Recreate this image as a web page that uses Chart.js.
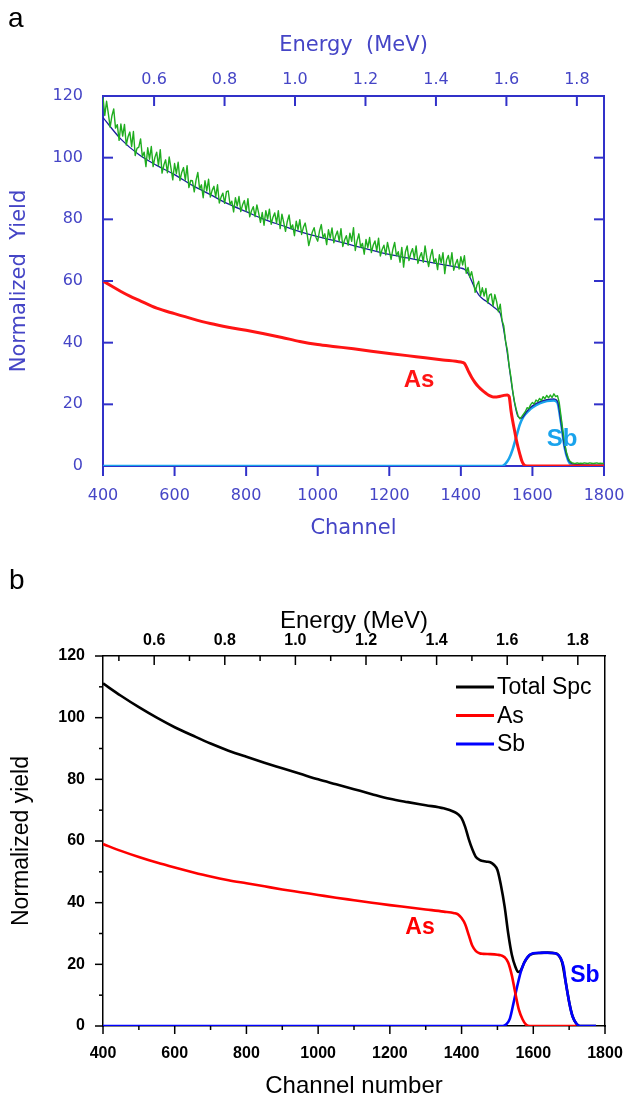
<!DOCTYPE html>
<html>
<head>
<meta charset="utf-8">
<title>RBS spectra</title>
<script src="https://cdn.jsdelivr.net/npm/chart.js@4.4.1/dist/chart.umd.min.js"></script>
<style>
  body { margin: 0; background: #fff; }
  #wrap { position: relative; width: 629px; height: 1098px; overflow: hidden; }
  canvas { position: absolute; left: 0; }
  #chartA { top: 0; }
  #chartB { top: 545px; }
  .panel { position: absolute; font-family: "Liberation Sans", Arial, sans-serif; font-size: 28px; line-height: 28px; color: #000; }
</style>
</head>
<body>
<div id="wrap">
  <canvas id="chartA" width="629" height="545"></canvas>
  <canvas id="chartB" width="629" height="553"></canvas>
  <div class="panel" style="left:8px;top:4px">a</div>
  <div class="panel" style="left:9px;top:566px">b</div>
</div>
<script>
// axis ticks
var channelTicks = [400, 600, 800, 1000, 1200, 1400, 1600, 1800];
var channelMinor = [500, 700, 900, 1100, 1300, 1500, 1700];
var yieldTicks = [0, 20, 40, 60, 80, 100, 120];
var yieldInner = [20, 40, 60, 80, 100];
var yieldMinor = [10, 30, 50, 70, 90, 110];
var energyTicks = [0.6, 0.8, 1.0, 1.2, 1.4, 1.6, 1.8];
var energyMinor = [0.5, 0.7, 0.9, 1.1, 1.3, 1.5, 1.7];
var energyMin = 0.455, energyMax = 1.877; // energy at channel 400 and 1800

// ---- panel a : measured spectrum (every 5th channel) ----
var expStart = 400, expStep = 5;
var aExpYield = [
  119.5,113.7,118.3,114.2,109.9,113.6,115.8,109.6,110.7,105.6,
  110.9,107.0,110.8,104.1,106.8,108.3,103.6,108.5,100.7,103.0,
  103.4,106.1,100.3,101.8,97.1,103.2,99.5,103.6,97.1,100.1,
  101.8,97.4,102.6,95.0,97.6,99.3,95.1,100.2,96.6,92.8,
  98.1,94.8,98.5,92.6,95.2,96.8,92.7,97.4,90.3,92.6,
  92.5,88.9,92.7,95.2,89.8,91.2,87.0,92.5,89.2,93.0,
  87.2,89.4,90.7,87.3,91.2,85.3,87.2,88.5,85.2,89.0,
  89.2,84.8,85.9,82.4,87.0,84.3,87.4,82.5,84.7,86.1,
  82.7,86.7,80.8,82.8,84.1,80.9,84.7,82.0,79.0,82.2,
  78.1,82.8,80.1,83.3,78.4,80.7,82.1,78.8,82.8,77.0,
  81.7,79.0,76.1,79.3,81.4,77.0,78.2,74.7,79.4,76.7,
  79.9,75.1,77.4,78.8,75.6,71.5,73.9,75.9,77.3,74.2,
  72.9,76.2,78.3,74.0,75.3,71.8,76.6,73.9,77.2,72.4,
  74.7,76.2,72.9,77.0,71.2,73.3,74.7,71.6,75.5,72.9,
  77.3,69.9,73.1,75.3,70.9,72.2,68.7,73.5,70.8,74.1,
  69.2,71.6,73.0,69.8,73.9,68.1,70.2,71.6,68.5,72.5,
  69.8,67.0,70.3,72.5,68.2,69.5,66.1,70.9,64.5,69.4,
  71.4,66.6,69.0,70.5,67.3,71.4,65.7,67.8,69.2,66.1,
  71.4,67.5,64.7,68.0,70.2,65.9,67.2,63.7,68.5,65.9,
  69.2,62.4,66.8,68.3,65.1,69.2,63.5,65.5,67.0,63.9,
  67.9,65.2,68.2,62.5,64.4,61.3,63.0,60.1,56.3,58.7,
  59.9,55.3,57.8,55.1,57.6,52.9,55.4,55.8,51.9,55.6,
  53.3,50.0,52.5,47.3,45.4,40.4,37.6,32.4,28.8,24.3,
  20.8,18.3,16.2,15.3,16.0,16.8,17.6,18.9,18.6,19.9,
  20.6,20.1,21.4,20.9,21.9,21.2,22.5,21.8,22.9,22.1,
  23.0,22.2,23.4,22.5,22.8,20.5,16.0,11.5,7.5,4.5,
  2.6,1.5,1.1,0.9,0.8,1.0,0.8,0.9,0.8,1.0,0.9,0.8,1.0,0.9,0.8,0.9,1.0,0.8,0.9,0.8,0.9
];
// simulated total
var aSimCh = [400,450,500,550,600,650,700,750,800,850,900,950,1000,1050,1100,1150,1200,1250,1300,1350,1400,
  1410,1420,1430,1440,1450,1460,1470,1480,1490,1500,1510,1520,1530,1540,1550,1560,1570,1580,1590,1600,
  1620,1640,1660,1670,1680,1690,1700,1710,1720,1800];
var aSimYield = [113,106,101,97.5,94.5,91,88,85,82.5,80,78,76,74.4,73,71.5,70,68.6,67.5,66.4,65.3,64.2,
  63.8,62.5,60,57.5,55.5,54.3,53.5,52.6,51.7,50.8,49.5,44,36.5,28,20.5,16,15.5,17,18.5,19.5,
  20.8,21.5,21.8,21,14,6,2,0.8,0.5,0.3];
// As contribution
var aAsCh = [400,425,450,475,500,550,600,650,700,750,800,850,900,950,1000,1050,1100,1150,1200,1250,1300,1350,1400,
  1410,1420,1430,1440,1450,1460,1470,1480,1490,1500,1510,1520,1530,
  1535,1540,1545,1550,1555,1560,1565,1570,1575,1580,1590,1800];
var aAsYield = [60,58.3,56.6,55.1,53.8,51.2,49.4,47.7,46.2,45.0,44.0,42.9,41.7,40.4,39.4,38.7,38.0,37.2,36.5,35.8,35.1,34.4,33.7,
  33.3,31,28.8,27,25.6,24.5,23.6,22.8,22.4,22.4,22.6,22.9,23,
  22.5,18,14.5,11.5,8.5,6,3.8,1.8,0.6,0.1,0,0];
// Sb contribution
var aSbCh = [400,1515,1525,1535,1545,1555,1565,1575,1590,1600,1620,1640,1660,1670,1680,1690,1700,1710,1720,1800];
var aSbYield = [0,0,0.8,2.5,5.5,9.5,13.5,16,18,19,20.3,21.1,21.3,20.5,14,6,1.8,0.3,0,0];

// ---- panel b : simulated spectra ----
var bTotalCh = [400,450,500,550,600,650,700,750,800,850,900,950,1000,1050,1100,1150,1200,1250,1300,1350,1380,1390,
  1400,1410,1420,1430,1440,1450,1460,1470,1480,1490,1500,1510,1520,1530,1540,1550,
  1558,1565,1575,1590,1600,1620,1640,1660,1670,1680,1690,1700,1710,1720,1730,1775];
var bTotalYield = [111.1,107.1,103.4,100.0,96.9,94.2,91.6,89.3,87.3,85.4,83.6,81.8,80.0,78.4,76.8,75.2,73.7,72.6,71.6,70.6,69.4,68.7,
  67.4,64.6,60.6,57.3,54.8,53.9,53.5,53.3,53.1,52.3,50.6,45.5,38.8,30.1,23.2,19.2,
  17.5,18.0,20.6,23.0,23.5,23.7,23.8,23.6,23.0,20.8,14.5,7.8,3.0,0.8,0,0];
var bAsCh = [400,450,500,550,600,650,700,750,800,850,900,950,1000,1050,1100,1150,1200,1250,1300,1350,1380,1390,
  1400,1410,1420,1430,1440,1450,1460,1480,1500,1510,1520,1530,1540,1550,1560,1570,1580,1590,1720];
var bAsYield = [59.0,56.8,54.8,53.0,51.4,49.9,48.5,47.3,46.3,45.3,44.3,43.4,42.5,41.6,40.8,40.0,39.2,38.5,37.8,37.1,36.6,36.2,
  35.0,33.0,29.5,26.0,24.3,23.6,23.4,23.3,23.1,22.9,22.3,20.6,16.5,10.6,5.2,2.2,0.4,0,0];
var bSbCh = [400,1515,1525,1535,1545,1555,1565,1575,1585,1595,1610,1630,1650,1665,1675,1685,1690,1695,1700,1705,1710,1720,1730,1775];
var bSbYield = [0,0,0.6,2.5,7.5,12.8,17.5,20.6,22.5,23.4,23.7,23.8,23.7,23.4,22.3,19.0,14.5,11.0,7.8,5.0,3.0,0.8,0,0];

var legendNames = ["Total Spc", "As", "Sb"];

function points(xs, ys) {
  var out = [];
  for (var i = 0; i < ys.length; i++) {
    out.push({ x: xs[i], y: ys[i] });
  }
  return out;
}

var expCh = [];
for (var i = 0; i < aExpYield.length; i++) {
  expCh.push(expStart + i * expStep);
}

function setTicks(list) {
  return function(scale) {
    scale.ticks = list.map(function(v) { return { value: v }; });
  };
}

// fixed box sizes so the plot area lands where it should
function fixSize(key, size) {
  return function(s) {
    s[key] = size;
    s.paddingLeft = 0; s.paddingRight = 0; s.paddingTop = 0; s.paddingBottom = 0;
  };
}

// draws tick marks, inline labels and legend
function decor(cfg) {
  return {
    id: "decor" + cfg.name,
    afterDraw: function(chart) {
      var ctx = chart.ctx, area = chart.chartArea;
      ctx.save();
      ctx.strokeStyle = cfg.tickColor;
      ctx.lineWidth = cfg.tickWidth;
      cfg.marks.forEach(function(m) {
        var sc = chart.scales[m.scale];
        m.values.forEach(function(v) {
          var p = sc.getPixelForValue(v);
          ctx.beginPath();
          if (m.side == "top") { ctx.moveTo(p, area.top); ctx.lineTo(p, area.top + m.len); }
          else if (m.side == "bottom") { ctx.moveTo(p, area.bottom); ctx.lineTo(p, area.bottom + m.len); }
          else if (m.side == "left") { ctx.moveTo(area.left, p); ctx.lineTo(area.left + m.len, p); }
          else { ctx.moveTo(area.right, p); ctx.lineTo(area.right - m.len, p); }
          ctx.stroke();
        });
      });
      ctx.textAlign = "center";
      ctx.textBaseline = "middle";
      cfg.labels.forEach(function(l) {
        ctx.font = l.font;
        ctx.fillStyle = l.color;
        ctx.fillText(l.text, chart.scales.x.getPixelForValue(l.ch), chart.scales.y.getPixelForValue(l.y));
      });
      if (cfg.legend) {
        var lg = cfg.legend;
        ctx.textAlign = "left";
        ctx.font = lg.font;
        ctx.lineWidth = 3;
        lg.items.forEach(function(it, k) {
          var y = lg.y + k * lg.gap;
          ctx.strokeStyle = it.color;
          ctx.beginPath();
          ctx.moveTo(lg.x, y);
          ctx.lineTo(lg.x + 38, y);
          ctx.stroke();
          ctx.fillStyle = "#000";
          ctx.fillText(it.text, lg.x + 41, y + 1);
        });
      }
      ctx.restore();
    }
  };
}

function plain(v) { return String(v); }
function oneDecimal(v) { return v.toFixed(1); }

// ---------------- chart a ----------------
var blueLine = "#3131c9";
var blueText = "#4545c6";
var fontA = "DejaVu Sans";

var chartA = new Chart(document.getElementById("chartA"), {
  type: "line",
  data: {
    datasets: [
      { label: "As", data: points(aAsCh, aAsYield), borderColor: "#ff1414", borderWidth: 3, order: 0, cubicInterpolationMode: "monotone" },
      { label: "Exp", data: points(expCh, aExpYield), borderColor: "#1fad1f", borderWidth: 1.4, order: 1, tension: 0 },
      { label: "Sim", data: points(aSimCh, aSimYield), borderColor: "#1c1c9e", borderWidth: 1.3, order: 2, cubicInterpolationMode: "monotone" },
      { label: "Sb", data: points(aSbCh, aSbYield), borderColor: "#19a3ec", borderWidth: 2.6, order: 3, cubicInterpolationMode: "monotone" }
    ]
  },
  options: {
    responsive: false,
    animation: false,
    devicePixelRatio: 1,
    elements: { point: { radius: 0 }, line: { borderJoinStyle: "round" } },
    layout: { padding: 0, autoPadding: false },
    plugins: { legend: { display: false }, tooltip: { enabled: false } },
    scales: {
      x: {
        type: "linear", position: "bottom", min: 400, max: 1800,
        grid: { display: false, drawTicks: false },
        border: { display: true, color: blueLine, width: 2 },
        afterBuildTicks: setTicks(channelTicks),
        ticks: { autoSkip: false, maxRotation: 0, padding: 20.4, color: blueText, font: { family: fontA, size: 16 }, callback: plain },
        title: { display: true, text: "Channel", color: blueText, font: { family: fontA, size: 21, lineHeight: 1 }, padding: { top: 0, bottom: 5.5 } },
        afterFit: fixSize("height", 79)
      },
      x2: {
        type: "linear", position: "top", min: energyMin, max: energyMax,
        grid: { display: false, drawTicks: false },
        border: { display: true, color: blueLine, width: 2 },
        afterBuildTicks: setTicks(energyTicks),
        ticks: { autoSkip: false, maxRotation: 0, padding: 6.4, color: blueText, font: { family: fontA, size: 16 }, callback: oneDecimal },
        title: { display: true, text: "Energy  (MeV)", color: blueText, font: { family: fontA, size: 21, lineHeight: 1 }, padding: { top: 35, bottom: 0 } },
        afterFit: fixSize("height", 96)
      },
      y: {
        type: "linear", position: "left", min: 0, max: 120,
        grid: { display: false, drawTicks: false },
        border: { display: true, color: blueLine, width: 2 },
        afterBuildTicks: setTicks(yieldTicks),
        ticks: { padding: 20, color: blueText, font: { family: fontA, size: 16 }, callback: plain },
        title: { display: true, text: "Normalized  Yield", color: blueText, font: { family: fontA, size: 21, lineHeight: 1 }, padding: { top: 9.5, bottom: 0 } },
        afterFit: fixSize("width", 103)
      },
      y2: {
        type: "linear", position: "right", min: 0, max: 120,
        grid: { display: false, drawTicks: false },
        border: { display: true, color: blueLine, width: 2 },
        ticks: { display: false },
        afterFit: fixSize("width", 25)
      }
    }
  },
  plugins: [decor({
    name: "A", tickColor: blueLine, tickWidth: 2,
    marks: [
      { scale: "x2", side: "top", values: energyTicks, len: 10 },
      { scale: "x", side: "bottom", values: channelTicks, len: 10 },
      { scale: "y", side: "left", values: yieldInner, len: 10 },
      { scale: "y", side: "right", values: yieldInner, len: 10 }
    ],
    labels: [
      { text: "As", ch: 1283, y: 27.9, color: "#ff1414", font: "bold 24px 'Liberation Sans', Arial, sans-serif" },
      { text: "Sb", ch: 1683, y: 8.5, color: "#19a3ec", font: "bold 24px 'Liberation Sans', Arial, sans-serif" }
    ]
  })]
});

// ---------------- chart b ----------------
var fontB = "'Liberation Sans', Arial, sans-serif";

var chartB = new Chart(document.getElementById("chartB"), {
  type: "line",
  data: {
    datasets: [
      { label: legendNames[1], data: points(bAsCh, bAsYield), borderColor: "#ff0000", borderWidth: 2.6, order: 0, cubicInterpolationMode: "monotone" },
      { label: legendNames[2], data: points(bSbCh, bSbYield), borderColor: "#0000ff", borderWidth: 2.6, order: 1, cubicInterpolationMode: "monotone" },
      { label: legendNames[0], data: points(bTotalCh, bTotalYield), borderColor: "#000000", borderWidth: 2.6, order: 2, cubicInterpolationMode: "monotone" }
    ]
  },
  options: {
    responsive: false,
    animation: false,
    devicePixelRatio: 1,
    elements: { point: { radius: 0 }, line: { borderJoinStyle: "round" } },
    layout: { padding: 0, autoPadding: false },
    plugins: { legend: { display: false }, tooltip: { enabled: false } },
    scales: {
      x: {
        type: "linear", position: "bottom", min: 400, max: 1800,
        grid: { display: false, drawTicks: false },
        border: { display: true, color: "#000", width: 1.5 },
        afterBuildTicks: setTicks(channelTicks),
        ticks: { autoSkip: false, maxRotation: 0, padding: 18, color: "#000", font: { family: fontB, size: 16, weight: "bold" }, callback: plain },
        title: { display: true, text: "Channel number", color: "#000", font: { family: fontB, size: 24, lineHeight: 1 }, padding: { top: 0, bottom: 0 } },
        afterFit: fixSize("height", 72)
      },
      x2: {
        type: "linear", position: "top", min: energyMin, max: energyMax,
        grid: { display: false, drawTicks: false },
        border: { display: true, color: "#000", width: 1.5 },
        afterBuildTicks: setTicks(energyTicks),
        ticks: { autoSkip: false, maxRotation: 0, padding: 5.4, color: "#000", font: { family: fontB, size: 16, weight: "bold" }, callback: oneDecimal },
        title: { display: true, text: "Energy (MeV)", color: "#000", font: { family: fontB, size: 24, lineHeight: 1 }, padding: { top: 64, bottom: 0 } },
        afterFit: fixSize("height", 111)
      },
      y: {
        type: "linear", position: "left", min: 0, max: 120,
        grid: { display: false, drawTicks: false },
        border: { display: true, color: "#000", width: 1.5 },
        afterBuildTicks: setTicks(yieldTicks),
        ticks: { padding: 18, color: "#000", font: { family: fontB, size: 16, weight: "bold" }, callback: plain },
        title: { display: true, text: "Normalized yield", color: "#000", font: { family: fontB, size: 23, lineHeight: 1 }, padding: { top: 10.5, bottom: 0 } },
        afterFit: fixSize("width", 103)
      },
      y2: {
        type: "linear", position: "right", min: 0, max: 120,
        grid: { display: false, drawTicks: false },
        border: { display: true, color: "#000", width: 1.5 },
        ticks: { display: false },
        afterFit: fixSize("width", 24)
      }
    }
  },
  plugins: [decor({
    name: "B", tickColor: "#000", tickWidth: 1.5,
    marks: [
      { scale: "x2", side: "top", values: energyTicks, len: 9 },
      { scale: "x2", side: "top", values: energyMinor, len: 5 },
      { scale: "x", side: "bottom", values: channelTicks, len: 8 },
      { scale: "x", side: "bottom", values: channelMinor, len: 4 },
      { scale: "y", side: "left", values: yieldTicks, len: -8 },
      { scale: "y", side: "left", values: yieldMinor, len: -4 }
    ],
    labels: [
      { text: "As", ch: 1284, y: 31.8, color: "#ff0000", font: "bold 23px " + fontB },
      { text: "Sb", ch: 1744, y: 16.2, color: "#0000ff", font: "bold 23px " + fontB }
    ],
    legend: {
      x: 456, y: 142, gap: 28.5, font: "23px " + fontB,
      items: [
        { text: legendNames[0], color: "#000" },
        { text: legendNames[1], color: "#ff0000" },
        { text: legendNames[2], color: "#0000ff" }
      ]
    }
  })]
});
</script>
</body>
</html>
